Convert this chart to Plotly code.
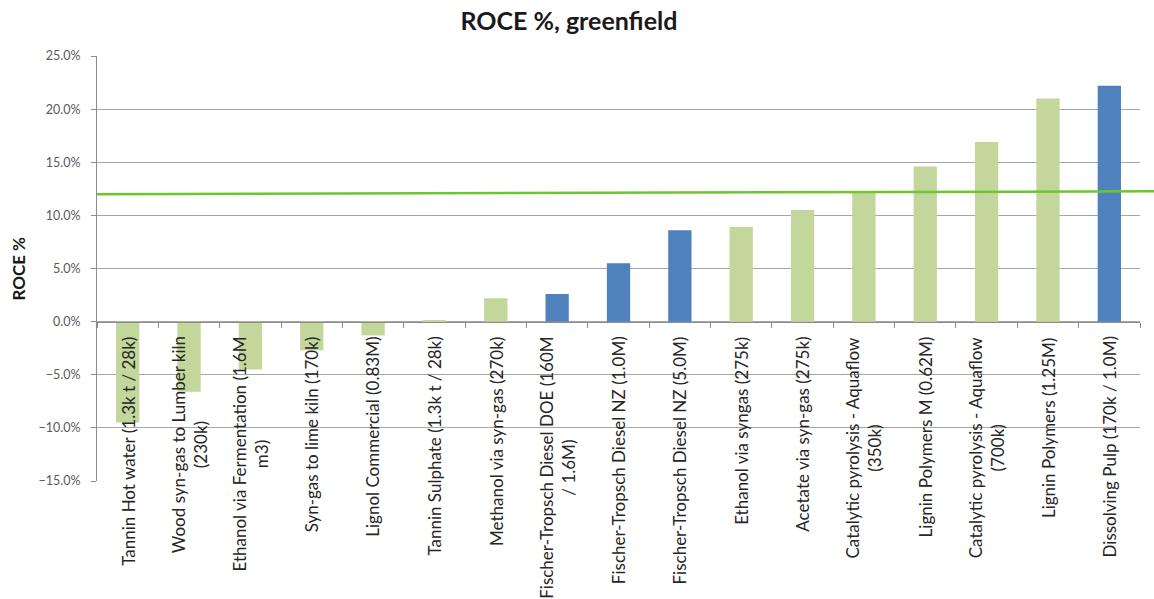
import plotly.graph_objects as go

# Project labels (line breaks where the labels wrap)
categories = [
    "Tannin Hot water (1.3k t / 28k)",
    "Wood syn-gas to Lumber kiln<br>(230k)",
    "Ethanol via Fermentation (1.6M<br>m3)",
    "Syn-gas to lime kiln (170k)",
    "Lignol Commercial (0.83M)",
    "Tannin Sulphate (1.3k t / 28k)",
    "Methanol via syn-gas (270k)",
    "Fischer-Tropsch Diesel DOE (160M<br>/ 1.6M)",
    "Fischer-Tropsch Diesel NZ (1.0M)",
    "Fischer-Tropsch Diesel NZ (5.0M)",
    "Ethanol via syngas (275k)",
    "Acetate via syn-gas (275k)",
    "Catalytic pyrolysis - Aquaflow<br>(350k)",
    "Lignin Polymers M (0.62M)",
    "Catalytic pyrolysis - Aquaflow<br>(700k)",
    "Lignin Polymers (1.25M)",
    "Dissolving Pulp (170k / 1.0M)",
]

# Return on capital employed, greenfield
roce = [-0.095, -0.066, -0.045, -0.027, -0.013, 0.001, 0.022, 0.026,
        0.055, 0.086, 0.089, 0.105, 0.122, 0.146, 0.169, 0.210, 0.222]

# Projects shown in blue
highlighted = [False, False, False, False, False, False, False, True,
               True, True, False, False, False, False, False, False, True]

# Hurdle-rate line, value at left and right ends
hurdle = [0.120, 0.1227]

y_ticks = [-0.15, -0.10, -0.05, 0.0, 0.05, 0.10, 0.15, 0.20, 0.25]
y_range = [-0.15, 0.25]

GREEN = "#C3D69B"
BLUE = "#4F81BD"
GRID = "#A6A6A6"
FONT = "Lato, 'Open Sans', sans-serif"

bar_colors = [BLUE if h else GREEN for h in highlighted]

fig = go.Figure(
    go.Bar(
        x=categories,
        y=roce,
        marker=dict(color=bar_colors, line=dict(width=0)),
        hoverinfo="x+y",
    )
)

# category axis crosses the value axis at zero
zero_pos = (0 - y_range[0]) / (y_range[1] - y_range[0])

fig.update_layout(
    width=1154,
    height=599,
    margin=dict(l=97, r=14, t=56, b=118),
    paper_bgcolor="white",
    plot_bgcolor="white",
    bargap=0.62,
    showlegend=False,
    font=dict(family=FONT, color="#404040"),
    title=dict(
        text="<b>ROCE %, greenfield</b>",
        x=0.493,
        xref="container",
        xanchor="center",
        y=1 - 21 / 599,
        yref="container",
        yanchor="middle",
        font=dict(family=FONT, size=25, color="#1a1a1a"),
    ),
    xaxis=dict(
        type="category",
        anchor="free",
        position=zero_pos,
        showticklabels=False,
        showline=True,
        linecolor="#8C8C8C",
        linewidth=1,
        ticks="outside",
        tickson="boundaries",
        ticklen=5,
        tickcolor="#8C8C8C",
        showgrid=False,
        zeroline=False,
    ),
    yaxis=dict(
        range=y_range,
        tickvals=y_ticks,
        tickformat=".1%",
        showgrid=True,
        gridcolor=GRID,
        gridwidth=1,
        zeroline=False,
        showline=True,
        linecolor="#8C8C8C",
        ticks="outside",
        ticklen=5,
        tickcolor="#8C8C8C",
        ticklabelstandoff=8,
        tickfont=dict(size=12.5, color="#595959"),
        automargin=False,
    ),
)

# Category labels hang from the zero line
for cat in categories:
    fig.add_annotation(
        x=cat,
        y=0,
        xref="x",
        yref="y",
        text=cat,
        textangle=-90,
        xanchor="center",
        yanchor="top",
        yshift=-13,
        align="center",
        showarrow=False,
        font=dict(size=17, color="#262626"),
    )

# Value-axis title
fig.add_annotation(
    x=-0.0757,
    y=0.5,
    xref="paper",
    yref="paper",
    text="<b>ROCE %</b>",
    textangle=-90,
    showarrow=False,
    xanchor="center",
    yanchor="middle",
    font=dict(size=17, color="#1a1a1a"),
)

# Hurdle-rate line drawn over the bars
fig.add_shape(
    type="line",
    xref="paper",
    yref="y",
    x0=0,
    x1=(1154 - 97) / (1154 - 97 - 14),
    y0=hurdle[0],
    y1=hurdle[1],
    line=dict(color="#6CC72F", width=2.5),
    layer="above",
)

fig.write_html("out.html")
